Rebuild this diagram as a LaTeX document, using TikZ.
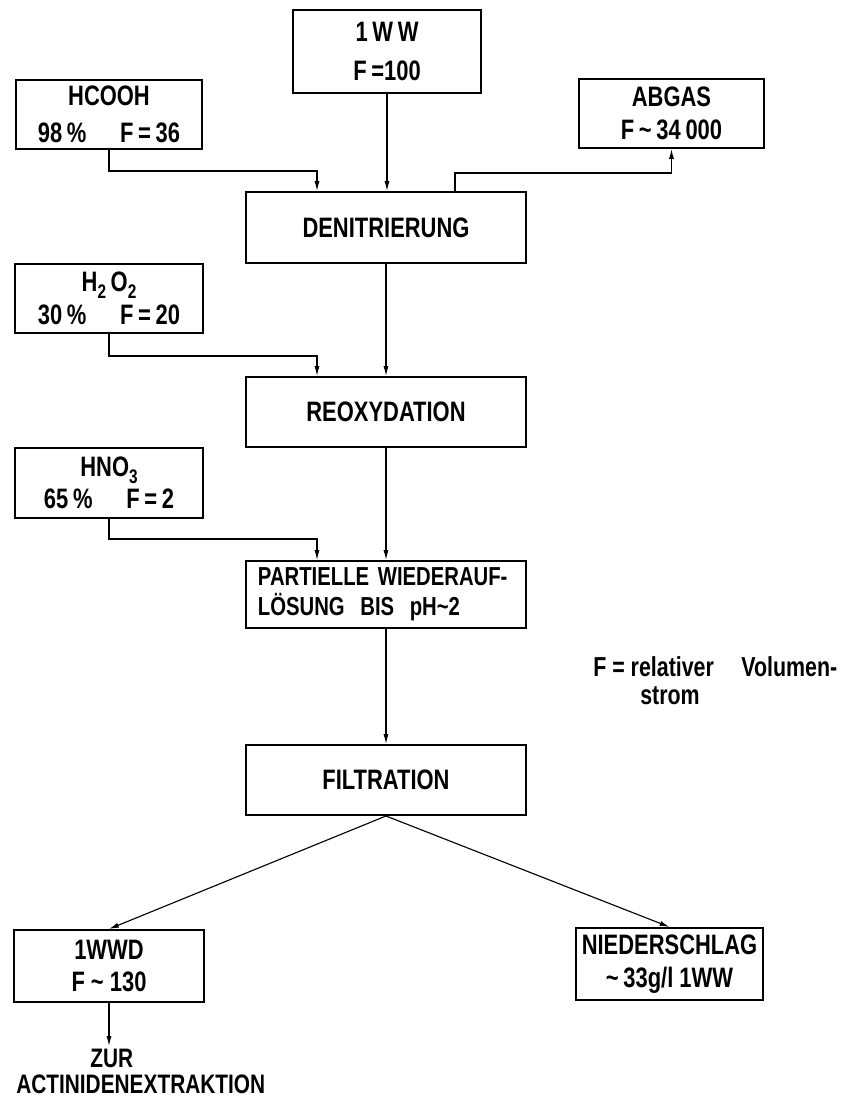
\documentclass[tikz,border=0pt]{standalone}
\usepackage{fontspec}
\setmainfont{Liberation Sans}[FakeStretch=0.78]
\usetikzlibrary{
  arrows.meta,
  calc
}
\newcommand{\lowidx}[1]{\raisebox{-0.45ex}{\fontsize{14}{14}\selectfont #1}}

\begin{document}
\begin{tikzpicture}[x=0.025cm, y=-0.025cm,
  font=\fontsize{20}{23}\selectfont\bfseries,
  procbox/.style={draw, line width=1.4pt, minimum width=7cm,
    minimum height=1.75cm, align=center},
  feedbox/.style={draw, line width=1.4pt, minimum width=4.7cm,
    minimum height=1.75cm, inner xsep=2pt, align=center},
  flow/.style={line width=0.8pt, -{Latex[length=7pt,width=3.6pt]}}]

  %% Page frame
  \fill[white] (0,0) rectangle (846,1099);
  \useasboundingbox (0,0) rectangle (846,1099);

  %% Feed and product boxes
  \node[feedbox, minimum height=2.075cm] (ww) at (387,51.5)
    {1\,W\,W\\[5pt]F\,=100};
  \node[feedbox, minimum width=4.65cm, minimum height=1.725cm] (hcooh)
    at (109,114.5) {HCOOH\\[3pt]98\,\%\hspace{1.2em}F\,=\,36};
  \node[feedbox, minimum width=4.625cm, minimum height=1.725cm] (abgas)
    at (671.5,113.5) {ABGAS\\F\,\textasciitilde\,34\,000};
  \node[feedbox, minimum height=1.725cm] (peroxide) at (109,298.5)
    {H\lowidx{2}\,O\lowidx{2}\\30\,\%\hspace{1.2em}F\,=\,20};
  \node[feedbox] (nitric) at (109,483)
    {HNO\lowidx{3}\\65\,\%\hspace{1.2em}F\,=\,2};

  %% Process steps
  \node[procbox, minimum height=1.775cm] (denit) at (386,227.5) {DENITRIERUNG};
  \node[procbox] (reox) at (386,412) {REOXYDATION};
  \node[procbox, minimum height=1.675cm, text width=6.4cm, align=left,
    font=\fontsize{18.5}{21}\selectfont\bfseries] (partial) at (386,594.5)
    {PARTIELLE WIEDERAUF-\\L\"OSUNG\hspace{0.6em}BIS\hspace{0.6em}pH\textasciitilde 2};
  \node[procbox] (filt) at (386,780) {FILTRATION};

  %% Outlets
  \node[feedbox, minimum width=4.75cm, minimum height=1.8cm] (wwd)
    at (109,966) {1WWD\\F \textasciitilde\ 130};
  \node[feedbox, minimum width=4.675cm, minimum height=1.8cm] (nieder)
    at (669.5,964) {NIEDERSCHLAG\\\textasciitilde\,33g/l 1WW};
  \coordinate (out) at (109,1046);
  \node[anchor=north west, align=left, inner sep=0pt,
    font=\fontsize{19}{18.5}\selectfont\bfseries] (zur) at (16,1049)
    {\hspace*{1.85cm}ZUR\\ACTINIDENEXTRAKTION};

  %% Legend
  \node[anchor=north west, align=left, inner sep=0pt,
    font=\fontsize{19.5}{20}\selectfont\bfseries] (legend) at (593,656)
    {F = relativer\hspace{1em}Volumen-\\\hspace*{1.175cm}strom};

  %% Main line
  \draw[flow] (ww.south) -- (ww.south |- denit.north);
  \draw[flow] (denit.south) -- (reox.north);
  \draw[flow] (reox.south) -- (partial.north);
  \draw[flow] (partial.south) -- (filt.north);

  %% Side feeds and off-gas
  \draw[flow] (hcooh.south) |- ($(denit.north)+(-69,-20)$)
    -- ($(denit.north)+(-69,0)$);
  \draw[flow] ($(denit.north)+(69,0)$) |- ($(abgas.south)+(0,24)$)
    -- (abgas.south);
  \draw[flow] (peroxide.south) |- ($(reox.north)+(-69,-20)$)
    -- ($(reox.north)+(-69,0)$);
  \draw[flow] (nitric.south) |- ($(partial.north)+(-69,-21)$)
    -- ($(partial.north)+(-69,0)$);

  %% Split after filtration
  \draw[flow] (filt.south) -- (wwd.north);
  \draw[flow] (filt.south) -- (nieder.north);
  \draw[flow] (wwd.south) -- (out);

\end{tikzpicture}
\end{document}
